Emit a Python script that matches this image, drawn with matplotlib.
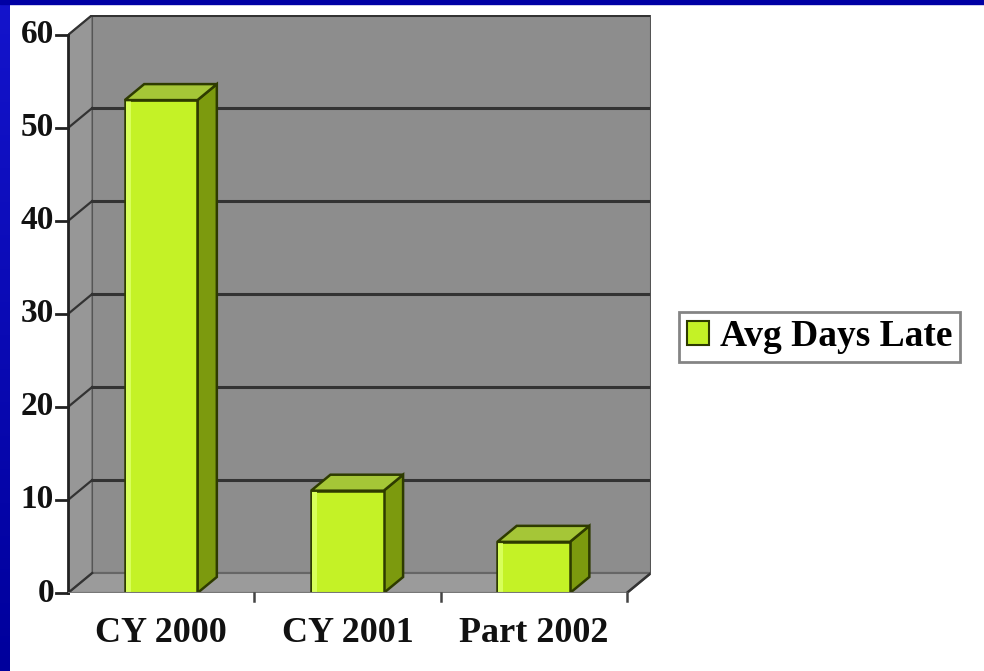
import matplotlib
matplotlib.use('Agg')
import matplotlib.pyplot as plt
from matplotlib.patches import Polygon, Rectangle, Patch
import numpy as np

categories = ['CY 2000', 'CY 2001', 'Part 2002']
avg_days_late = [53, 11, 5.5]
yticks = [0, 10, 20, 30, 40, 50, 60]
series_name = 'Avg Days Late'

# depth of the fake 3D box, in data units
DX, DY = 0.13, 2.15
BAR_W = 0.39
BAR_DEPTH = 0.8
YMAX = 60

front_c = '#c4f226'
top_c = '#a5c637'
side_c = '#7c9a0e'
edge_c = '#2e3b00'
wall_c = '#8d8d8d'
grid_c = '#333333'

serif = ['Liberation Serif', 'DejaVu Serif']

fig = plt.figure(figsize=(9.84, 6.71), dpi=100)
fig.patch.set_facecolor('white')

# blue slide border (left strip + top strip)
bax = fig.add_axes([0, 0, 10/984, 1])
grad = np.linspace(0, 1, 256).reshape(-1, 1)
bax.imshow(grad, aspect='auto', cmap=matplotlib.colors.LinearSegmentedColormap.from_list('b', ['#1414cc', '#00009c']))
bax.axis('off')
fig.patches.append(Rectangle((0, 1 - 4/671), 1, 4/671, transform=fig.transFigure, color='#0000a4', zorder=10))

ax = fig.add_axes([68/984, (671-593)/671, (651-68)/984, (593-15)/671])
ax.set_xlim(-0.5, 2.5 + DX)
ax.set_ylim(0, YMAX + DY)
ax.axis('off')

x0, x1 = -0.5, len(categories) - 0.5

# back wall
ax.add_patch(Rectangle((x0 + DX, DY), x1 - x0, YMAX, facecolor=wall_c, edgecolor='#555555', lw=1.5, zorder=1))
# left wall
ax.add_patch(Polygon([(x0, 0), (x0 + DX, DY), (x0 + DX, YMAX + DY), (x0, YMAX)],
                     facecolor='#979797', edgecolor='#555555', lw=1, zorder=1))
# floor
ax.add_patch(Polygon([(x0, 0), (x1, 0), (x1 + DX, DY), (x0 + DX, DY)],
                     facecolor='#9b9b9b', edgecolor='#666666', lw=1.5, zorder=1))

# gridlines on back and left walls
for v in yticks:
    if v > 0:
        ax.plot([x0 + DX, x1 + DX], [v + DY, v + DY], color=grid_c, lw=2.2, zorder=2)
    ax.plot([x0, x0 + DX], [v, v + DY], color=grid_c, lw=1.6, zorder=2)
ax.plot([x1, x1 + DX], [0, DY], color='#333333', lw=1.8, zorder=2)
ax.plot([x1 + DX, x1 + DX], [DY, YMAX + DY], color='#555555', lw=2, zorder=2)

# front vertical axis and ticks
ax.plot([x0, x0], [0, YMAX], color='#222222', lw=2, zorder=6, clip_on=False)
for v in yticks:
    ax.plot([x0 - 0.065, x0], [v, v], color='#222222', lw=2, zorder=6, clip_on=False)
    ax.text(x0 - 0.075, v, str(v), ha='right', va='center', fontsize=24,
            fontweight='bold', family=serif, color='#111111')

# category ticks along the floor's front edge
ax.plot([x0, x1], [0, 0], color='#777777', lw=1.5, zorder=6)
for b in np.arange(0.5, len(categories), 1.0):
    ax.plot([b, b], [0, -0.9], color='#444444', lw=1.8, zorder=6, clip_on=False)

xs = np.arange(len(categories))
for x, lab in zip(xs, categories):
    ax.text(x, -2.6, lab, ha='center', va='top', fontsize=26, fontweight='bold',
            family=serif, color='#111111')

# bars: front face from ax.bar, side and top faces offset by the depth
bars = ax.bar(xs, avg_days_late, width=BAR_W, color=front_c, edgecolor=edge_c, lw=1.8, zorder=4)
bdx, bdy = DX * BAR_DEPTH, DY * BAR_DEPTH
for x, h in zip(xs, avg_days_late):
    l, r = x - BAR_W / 2, x + BAR_W / 2
    ax.add_patch(Polygon([(r, 0), (r + bdx, bdy), (r + bdx, h + bdy), (r, h)],
                         facecolor=side_c, edgecolor=edge_c, lw=1.8, zorder=3))
    ax.add_patch(Polygon([(l, h), (r, h), (r + bdx, h + bdy), (l + bdx, h + bdy)],
                         facecolor=top_c, edgecolor=edge_c, lw=1.8, zorder=5))
    # light strip on the left of the front face
    ax.add_patch(Rectangle((l + 0.006, 0), 0.025, h, facecolor='#d8ff5a', lw=0, zorder=4.5))

# legend
leg = fig.legend(handles=[Patch(facecolor=front_c, edgecolor=edge_c, lw=1.5, label=series_name)],
                 loc='center left', bbox_to_anchor=(679/984, 1 - 337/671),
                 prop={'family': serif, 'weight': 'bold', 'size': 27},
                 frameon=True, fancybox=False, handlelength=0.6, handleheight=0.6,
                 handletextpad=0.3, borderpad=0.2, borderaxespad=0)
leg.get_frame().set_edgecolor('#666666')
leg.get_frame().set_linewidth(2)

plt.savefig('out.png', dpi=100)
plt.close()
